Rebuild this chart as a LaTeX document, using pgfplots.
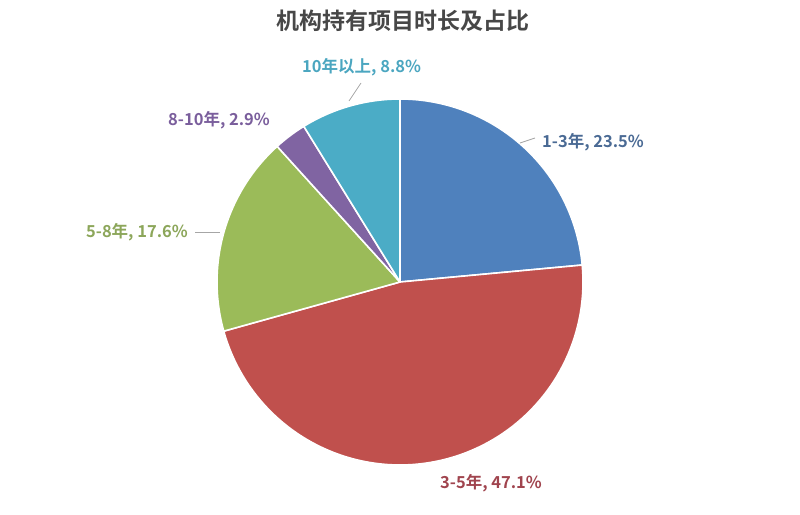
\documentclass[border=0pt]{standalone}
\usepackage{pgfplots}
\pgfplotsset{compat=1.18}
\usepackage{fontspec}
\setmainfont{Noto Sans CJK SC}
\newfontfamily\cjkb{Noto Sans CJK SC Bold}
\definecolor{cA}{HTML}{4F81BD}
\definecolor{cB}{HTML}{C0504D}
\definecolor{cC}{HTML}{9BBB59}
\definecolor{cD}{HTML}{8064A2}
\definecolor{cE}{HTML}{4BACC6}
\definecolor{tA}{HTML}{4A6A94}
\definecolor{tB}{HTML}{A0444E}
\definecolor{tC}{HTML}{8CA65A}
\definecolor{tD}{HTML}{7A5E9C}
\definecolor{tE}{HTML}{4BA6C0}
% shares (percent) in chart order, clockwise from 12 o'clock
\def\pA{23.5}\def\pB{47.1}\def\pC{17.6}\def\pD{2.9}\def\pE{8.8}
\pgfmathsetmacro\tot{\pA+\pB+\pC+\pD+\pE}
\pgfmathsetmacro\aO{90}
\pgfmathsetmacro\aA{\aO-\pA/\tot*360}
\pgfmathsetmacro\aB{\aA-\pB/\tot*360}
\pgfmathsetmacro\aC{\aB-\pC/\tot*360}
\pgfmathsetmacro\aD{\aC-\pD/\tot*360}
\pgfmathsetmacro\aE{\aD-\pE/\tot*360}
\begin{document}
\begin{tikzpicture}
\path[use as bounding box] (0pt,0pt) rectangle (800pt,514pt);
\begin{axis}[
  at={(400pt,232pt)}, anchor=center,
  scale only axis, width=366pt, height=366pt,
  xmin=-1, xmax=1, ymin=-1, ymax=1,
  hide axis, clip=false,
  trig format=deg,
  every axis plot/.append style={draw=white, line width=1.6pt, line join=round, samples=90, variable=\t},
]
\addplot[fill=cA, domain=\aA:\aO] ({cos(\t)},{sin(\t)}) -- (axis cs:0,0) -- cycle;
\addplot[fill=cB, domain=\aB:\aA] ({cos(\t)},{sin(\t)}) -- (axis cs:0,0) -- cycle;
\addplot[fill=cC, domain=\aC:\aB] ({cos(\t)},{sin(\t)}) -- (axis cs:0,0) -- cycle;
\addplot[fill=cD, domain=\aD:\aC] ({cos(\t)},{sin(\t)}) -- (axis cs:0,0) -- cycle;
\addplot[fill=cE, domain=\aE:\aD] ({cos(\t)},{sin(\t)}) -- (axis cs:0,0) -- cycle;
\end{axis}
\begin{scope}[x=1pt,y=1pt]
% title
\node[font=\cjkb\fontsize{23}{27}\selectfont, text=black!72] at (403,493) {机构持有项目时长及占比};
% labels
\begin{scope}[every node/.style={font=\cjkb\fontsize{16.5}{19}\selectfont, inner sep=0pt}]
\node[text=tE, anchor=west] at (302,447) {10年以上, 8.8\%};
\node[text=tD, anchor=west] at (168,394) {8-10年, 2.9\%};
\node[text=tA, anchor=west] at (542,372) {1-3年, 23.5\%};
\node[text=tC, anchor=east] at (188,282) {5-8年, 17.6\%};
\node[text=tB, anchor=west] at (440,31) {3-5年, 47.1\%};
\end{scope}
\draw[gray!70, line width=0.8pt] (361,431) -- (349,413);
\draw[gray!70, line width=0.8pt] (520,371) -- (535,376);
\draw[gray!70, line width=0.8pt] (195,282) -- (220,282);
\end{scope}
\end{tikzpicture}
\end{document}
